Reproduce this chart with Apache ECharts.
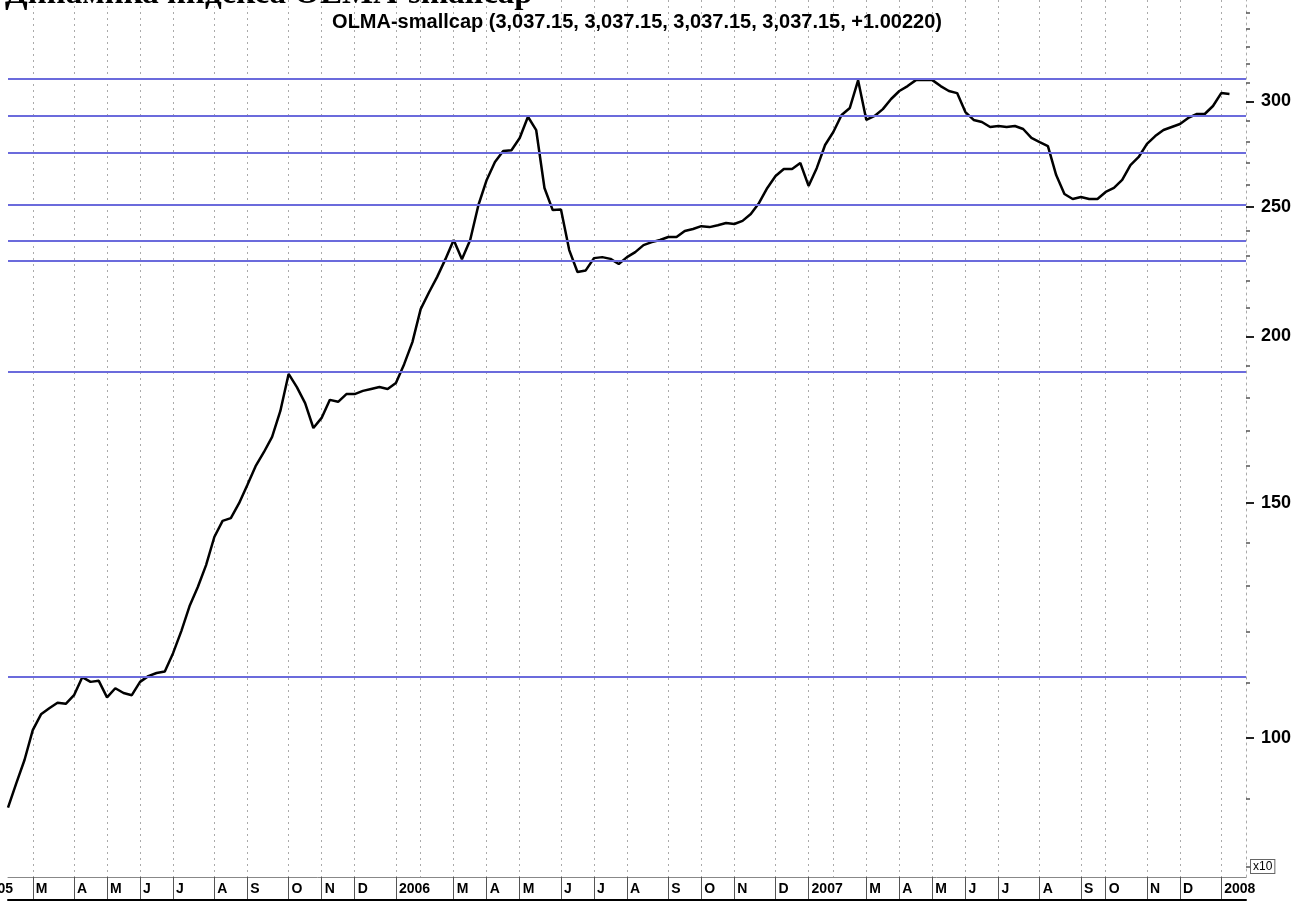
<!DOCTYPE html>
<html>
<head>
<meta charset="utf-8">
<title>Динамика индекса OLMA-smallcap</title>
<script src="https://cdn.jsdelivr.net/npm/echarts@6.0.0/dist/echarts.min.js"></script>
<style>
  html, body { margin: 0; padding: 0; background: #fff; }
  #chart { width: 1299px; height: 902px; }
</style>
</head>
<body>
<div id="chart"></div>
<script>
// weekly closes (x10 points), one inner array per month
const close2005 = [
  [88.6, 92.4, 96.2],                         // Feb
  [101.3, 104.1, 105.2, 106.2, 106.0],        // Mar
  [107.6, 111.0, 110.1, 110.3],               // Apr
  [107.2, 108.9, 108.0, 107.6],               // May
  [110.1, 111.2, 111.8, 112.1],               // Jun
  [115.7, 120.2, 125.5, 129.7, 134.7],        // Jul
  [141.4, 145.4, 146.1, 149.9],               // Aug
  [154.7, 159.8, 163.7, 168.1, 175.8],        // Sep
  [187.4, 183.2, 178.2, 170.7],               // Oct
  [173.7, 179.2, 178.6, 181.0],               // Nov
  [181.0, 182.0, 182.6, 183.2, 182.6]         // Dec
];
const close2006 = [
  [184.5, 190.6, 198.0],                      // Jan
  [209.6, 215.7, 221.6, 228.5],               // Feb
  [236.2, 228.5, 236.2, 250.9],               // Mar
  [262.0, 270.2, 275.4, 275.8],               // Apr
  [281.7, 292.2, 285.5, 258.4, 248.7],        // May
  [249.0, 232.1, 223.5, 224.1],               // Jun
  [228.9, 229.3, 228.6, 226.6],               // Jul
  [229.3, 231.3, 234.1, 235.3, 236.2],        // Aug
  [237.4, 237.4, 239.9, 240.7],               // Sep
  [241.9, 241.5, 242.3, 243.2],               // Oct
  [242.8, 244.1, 247.0, 251.8, 258.4],        // Nov
  [263.8, 267.0, 267.0, 269.8]                // Dec
];
const close2007 = [
  [259.3, 267.5, 278.3],                      // Jan
  [284.6, 293.1, 296.7, 311.2],               // Feb
  [290.6, 292.6, 296.1, 301.3],               // Mar
  [305.5, 308.1, 311.3, 311.3],               // Apr
  [311.3, 308.1, 305.5, 304.4],               // May
  [294.6, 290.6, 289.6, 287.1],               // Jun
  [287.6, 287.1, 287.6, 286.1, 281.7],        // Jul
  [279.7, 277.8, 264.2, 255.7, 253.5],        // Aug
  [254.4, 253.5, 253.5],                      // Sep
  [256.6, 258.4, 262.0, 268.8, 272.6],        // Oct
  [278.8, 282.6, 285.6, 287.1],               // Nov
  [288.6, 291.6, 293.6, 293.6, 297.7]         // Dec
];
const close2008 = [
  [304.4, 303.9, null, null]                  // Jan (chart ends mid-month)
];

// horizontal support / resistance lines
const levels = [312, 292.5, 274.5, 251, 236, 228, 188, 111];

// right axis
const yLabels = [100, 150, 200, 250, 300];
const yMinor = [80, 90, 110, 120, 130, 140, 160, 170, 180, 190, 210, 220, 230, 240,
  260, 270, 280, 290, 310, 320, 330, 340, 350];
const yMin = 78.6;
const yMax = 357.5;

const monthLetters = ['J', 'F', 'M', 'A', 'M', 'J', 'J', 'A', 'S', 'O', 'N', 'D'];

// flatten into category axis, remember where each month starts
const categories = [];
const values = [];
const monthStart = {};
[[2005, 2, close2005], [2006, 1, close2006], [2007, 1, close2007], [2008, 1, close2008]]
  .forEach(([year, m0, months]) => {
    months.forEach((weeks, k) => {
      const month = m0 + k;
      weeks.forEach((v, w) => {
        if (w === 0) monthStart[categories.length] = { year, month };
        categories.push(year + '-' + String(month).padStart(2, '0') + ' w' + (w + 1));
        values.push(v);
      });
    });
  });

const isMonth = (i) => i > 0 && monthStart[i] !== undefined;
const isLabelled = (i) => isMonth(i) && monthStart[i].month !== 2;

const font = 'Liberation Sans, Arial, sans-serif';

const chart = echarts.init(document.getElementById('chart'));
chart.setOption({
  animation: false,
  backgroundColor: '#fff',
  title: [
    {
      text: 'Динамика индекса OLMA-smallcap',
      left: 0,
      top: -27,
      textStyle: { fontFamily: 'Liberation Serif, Times New Roman, serif', fontSize: 33, fontWeight: 'bold', color: '#000' }
    },
    {
      text: 'OLMA-smallcap (3,037.15, 3,037.15, 3,037.15, 3,037.15, +1.00220)',
      left: 632,
      textAlign: 'center',
      top: 7,
      textStyle: { fontFamily: font, fontSize: 20, fontWeight: 'bold', color: '#000' }
    }
  ],
  grid: { left: 8, right: 53, top: 0, bottom: 25, containLabel: false },
  xAxis: [
    {
      type: 'category',
      data: categories,
      boundaryGap: false,
      axisLine: { show: true, lineStyle: { color: '#888', width: 1 } },
      axisTick: { show: true, interval: isLabelled, length: 22, lineStyle: { color: '#555', width: 1 } },
      axisLabel: {
        interval: isLabelled,
        align: 'left',
        margin: 5,
        padding: [0, 0, 0, 3],
        color: '#000',
        fontFamily: font,
        fontSize: 14,
        fontWeight: 'bold',
        formatter: (val, i) => {
          const m = monthStart[i];
          return m.month === 1 ? String(m.year) : monthLetters[m.month - 1];
        }
      },
      splitLine: { show: true, interval: isMonth, lineStyle: { color: '#aaa', width: 1, type: [2, 4] } }
    },
    {
      type: 'category',
      data: categories,
      boundaryGap: false,
      position: 'bottom',
      offset: 23,
      axisLine: { show: true, lineStyle: { color: '#000', width: 2 } },
      axisTick: { show: false },
      axisLabel: { show: false },
      splitLine: { show: false }
    }
  ],
  yAxis: [
    {
      type: 'log',
      logBase: 10,
      position: 'right',
      min: yMin,
      max: yMax,
      axisLine: { show: true, lineStyle: { color: '#aaa', width: 1, type: [2, 4] } },
      axisTick: { show: true, customValues: yLabels, length: 8, lineStyle: { color: '#222', width: 2 } },
      axisLabel: {
        customValues: yLabels,
        margin: 15,
        color: '#000',
        fontFamily: font,
        fontSize: 18,
        fontWeight: 'bold'
      },
      splitLine: { show: false }
    },
    {
      type: 'log',
      logBase: 10,
      position: 'right',
      min: yMin,
      max: yMax,
      axisLine: { show: false },
      axisTick: { show: true, customValues: yMinor, length: 4, lineStyle: { color: '#555', width: 1.5 } },
      axisLabel: { show: false },
      splitLine: { show: false }
    }
  ],
  series: [
    {
      name: 'OLMA-smallcap',
      type: 'line',
      xAxisIndex: 0,
      yAxisIndex: 0,
      data: values,
      showSymbol: false,
      connectNulls: false,
      lineStyle: { color: '#000', width: 2.5 },
      markLine: {
        silent: true,
        symbol: ['none', 'none'],
        label: { show: false },
        lineStyle: { color: '#6b6bdc', width: 2, type: 'solid' },
        data: levels.map((v) => ({ yAxis: v }))
      }
    }
  ],
  graphic: [
    {
      type: 'text',
      left: -18,
      top: 882,
      style: { text: '2005', font: 'bold 14px ' + font, fill: '#000' }
    },
    {
      type: 'text',
      left: 1250,
      top: 859,
      style: {
        text: 'x10',
        font: '12px ' + font,
        fill: '#000',
        backgroundColor: '#fff',
        borderColor: '#666',
        borderWidth: 1,
        padding: [1, 2, 0, 2]
      }
    }
  ]
});
</script>
</body>
</html>
